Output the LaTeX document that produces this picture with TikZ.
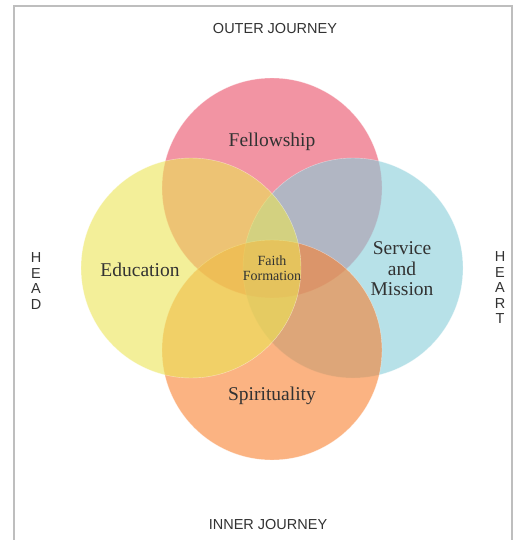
\documentclass[tikz,border=0pt]{standalone}
\usepackage{fontspec}
\setmainfont{Liberation Serif}
\newfontfamily\arialfont{Liberation Sans}
\definecolor{fellowpink}{RGB}{233,77,102}
\definecolor{eduyellow}{RGB}{235,228,85}
\definecolor{serviceblue}{RGB}{135,205,217}
\definecolor{spiritorange}{RGB}{248,128,47}
\definecolor{labelgray}{RGB}{50,50,50}
\definecolor{framegray}{RGB}{190,190,190}

\begin{document}
\begin{tikzpicture}[x=1pt,y=-1pt]

    \useasboundingbox (0,0) rectangle (529,540);
    \draw[framegray,line width=1.2pt] (14,560) -- (14,6) -- (512,6) -- (512,560);

    \begin{scope}[every node/.style={circle,minimum size=220pt,inner sep=0pt,fill opacity=0.6,draw=white,draw opacity=0.5,line width=0.4pt}]
        \node[fill=fellowpink] (fellow) at (272,188) {};
        \node[fill=serviceblue] (service) at (353,268) {};
        \node[fill=spiritorange] (spirit) at (272,350) {};
        \node[fill=eduyellow] (edu) at (191,268) {};
    \end{scope}

    \begin{scope}[every node/.style={text=labelgray,align=center,font=\fontsize{19.5}{20.5}\selectfont}]
        \node (fellowtxt) at (272,142) {Fellowship};
        \node (edutxt) at (140,270) {Education};
        \node (servicetxt) at (402,269) {Service\\and\\Mission};
        \node (spirittxt) at (272,396) {Spirituality};
        \node[font=\fontsize{14}{15.5}\selectfont] (faith) at (272,268) {Faith\\Formation};
    \end{scope}

    \begin{scope}[every node/.style={text=labelgray,align=center,font=\arialfont\fontsize{14.5}{15.5}\selectfont}]
        \node (outer) at (275,29) {OUTER JOURNEY};
        \node (inner) at (268,525) {INNER JOURNEY};
        \node (head) at (36,281) {H\\E\\A\\D};
        \node (heart) at (500,288) {H\\E\\A\\R\\T};
    \end{scope}

\end{tikzpicture}
\end{document}
